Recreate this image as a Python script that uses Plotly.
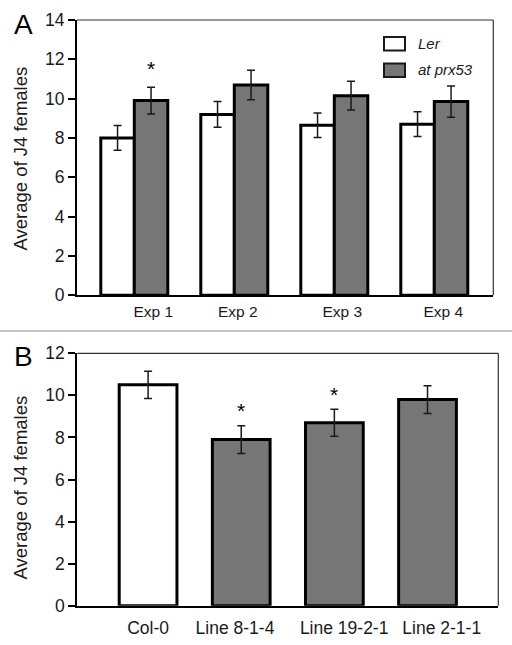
import plotly.graph_objects as go

# ---------------- data ----------------
exp_labels = ["Exp 1", "Exp 2", "Exp 3", "Exp 4"]
ler_mean = [8.0, 9.2, 8.65, 8.7]
ler_err = [0.63, 0.66, 0.62, 0.63]
prx_mean = [9.9, 10.7, 10.15, 9.85]
prx_err = [0.68, 0.75, 0.73, 0.8]
prx_sig = [True, False, False, False]

line_labels = ["Col-0", "Line 8-1-4", "Line 19-2-1", "Line 2-1-1"]
line_mean = [10.5, 7.9, 8.7, 9.8]
line_err = [0.65, 0.66, 0.64, 0.66]
line_sig = [False, True, True, False]
line_is_wt = [True, False, False, False]

legend_names = ["Ler", "at prx53"]

# ---------------- styling ----------------
FONT = "Liberation Sans, Arial, sans-serif"
GRAY = "#767676"
W, H = 512, 645
a_label_shift = [0.19, 0.035, 0.08, 0.09]
b_label_shift = [0.0, -0.067, 0.105, 0.153]

err_style = dict(type="data", symmetric=True, color="#1a1a1a", thickness=1.5, width=4)

fig = go.Figure()
xa = list(range(len(exp_labels)))
xb = list(range(len(line_labels)))

fig.add_trace(go.Bar(
    x=xa, y=ler_mean, name=legend_names[0], xaxis="x", yaxis="y",
    width=0.335, offset=-0.335,
    marker=dict(color="white", line=dict(color="black", width=3)),
    error_y=dict(array=ler_err, **err_style), showlegend=False))
fig.add_trace(go.Bar(
    x=xa, y=prx_mean, name=legend_names[1], xaxis="x", yaxis="y",
    width=0.335, offset=0,
    marker=dict(color=GRAY, line=dict(color="black", width=3)),
    error_y=dict(array=prx_err, **err_style), showlegend=False))
fig.add_trace(go.Bar(
    x=xb, y=line_mean, xaxis="x2", yaxis="y2", width=0.62,
    marker=dict(color=["white" if w else GRAY for w in line_is_wt],
                line=dict(color="black", width=3)),
    error_y=dict(array=line_err, **err_style), showlegend=False))

annotations = []
for i, s in enumerate(prx_sig):
    if s:
        annotations.append(dict(x=xa[i] + 0.1675, y=prx_mean[i] + prx_err[i], xref="x", yref="y",
                                text="*", showarrow=False, xanchor="center", yanchor="middle",
                                yshift=19, font=dict(family=FONT, size=21, color="black")))
for i, s in enumerate(line_sig):
    if s:
        annotations.append(dict(x=xb[i], y=line_mean[i] + line_err[i], xref="x2", yref="y2",
                                text="*", showarrow=False, xanchor="center", yanchor="middle",
                                yshift=15, font=dict(family=FONT, size=21, color="black")))

# panel letters
annotations.append(dict(x=23 / W, y=1 - 25 / H, xref="paper", yref="paper", text="A",
                        xanchor="center", yanchor="middle",
                        showarrow=False, font=dict(family=FONT, size=28, color="black")))
annotations.append(dict(x=23 / W, y=1 - 356 / H, xref="paper", yref="paper", text="B",
                        xanchor="center", yanchor="middle",
                        showarrow=False, font=dict(family=FONT, size=28, color="black")))
# y titles
for yc in (158.5, 487.5):
    annotations.append(dict(x=20 / W, y=1 - yc / H, xref="paper", yref="paper",
                            xanchor="center", yanchor="middle",
                            text="Average of J4 females", textangle=-90, showarrow=False,
                            font=dict(family=FONT, size=18.5, color="#1a1a1a")))
# legend texts
annotations.append(dict(x=416 / W, y=1 - 43.5 / H, xref="paper", yref="paper",
                        xanchor="left", yanchor="middle",
                        text="<i>Ler</i>", showarrow=False,
                        font=dict(family=FONT, size=15, color="#1a1a1a")))
annotations.append(dict(x=416 / W, y=1 - 70 / H, xref="paper", yref="paper",
                        xanchor="left", yanchor="middle",
                        text="<i>at prx53</i>", showarrow=False,
                        font=dict(family=FONT, size=15, color="#1a1a1a")))

shapes = []
# thin frame lines (top and right)
for xr, yr in (("x domain", "y domain"), ("x2 domain", "y2 domain")):
    shapes.append(dict(type="line", xref=xr, yref=yr, x0=0, x1=1, y0=1, y1=1,
                       line=dict(color="#333333", width=1.2)))
    shapes.append(dict(type="line", xref=xr, yref=yr, x0=1, x1=1, y0=0, y1=1,
                       line=dict(color="#333333", width=1.2)))
# separator
shapes.append(dict(type="line", xref="paper", yref="paper", x0=0, x1=1,
                   y0=1 - 331 / H, y1=1 - 331 / H, line=dict(color="#8a8a8a", width=1.2)))
# legend swatches
shapes.append(dict(type="rect", xref="paper", yref="paper", x0=384 / W, x1=405 / W,
                   y0=1 - 50.5 / H, y1=1 - 37 / H, fillcolor="white",
                   line=dict(color="#1a1a1a", width=2)))
shapes.append(dict(type="rect", xref="paper", yref="paper", x0=384 / W, x1=405 / W,
                   y0=1 - 77 / H, y1=1 - 63.5 / H, fillcolor=GRAY,
                   line=dict(color="#1a1a1a", width=2)))

axis_common = dict(showline=True, linecolor="black", linewidth=2, showgrid=False,
                   zeroline=False, automargin=False)

fig.update_layout(
    template="none",
    width=W, height=H, margin=dict(l=0, r=0, t=0, b=0, pad=0, autoexpand=False),
    paper_bgcolor="white", plot_bgcolor="white",
    barmode="overlay",
    xaxis=dict(domain=[77 / W, 493.3 / W], range=[-0.573, 3.59], anchor="y",
               tickvals=[v + s for v, s in zip(xa, a_label_shift)], ticktext=exp_labels,
               ticks="", ticklen=0, ticklabelstandoff=1,
               tickfont=dict(family=FONT, size=15.5, color="#1a1a1a"), **axis_common),
    yaxis=dict(domain=[1 - 295.3 / H, 1 - 20 / H], range=[0, 14], dtick=2, anchor="x",
               ticks="outside", ticklen=7, tickwidth=1.5, tickcolor="black",
               tickfont=dict(family=FONT, size=17.5, color="#1a1a1a"), **axis_common),
    xaxis2=dict(domain=[77.3 / W, 498.3 / W], range=[-0.76, 3.76], anchor="y2",
                tickvals=[v + s for v, s in zip(xb, b_label_shift)], ticktext=line_labels,
                ticks="", ticklen=0, ticklabelstandoff=5,
                tickfont=dict(family=FONT, size=17.5, color="#1a1a1a"), **axis_common),
    yaxis2=dict(domain=[1 - 605.7 / H, 1 - 353.3 / H], range=[0, 12], dtick=2, anchor="x2",
                ticks="outside", ticklen=7, tickwidth=1.5, tickcolor="black",
                tickfont=dict(family=FONT, size=17.5, color="#1a1a1a"), **axis_common),
    annotations=annotations, shapes=shapes,
)

fig.write_html("out.html", config={"displayModeBar": False},
               post_script="document.body.style.margin='0';document.body.style.overflow='hidden';")
